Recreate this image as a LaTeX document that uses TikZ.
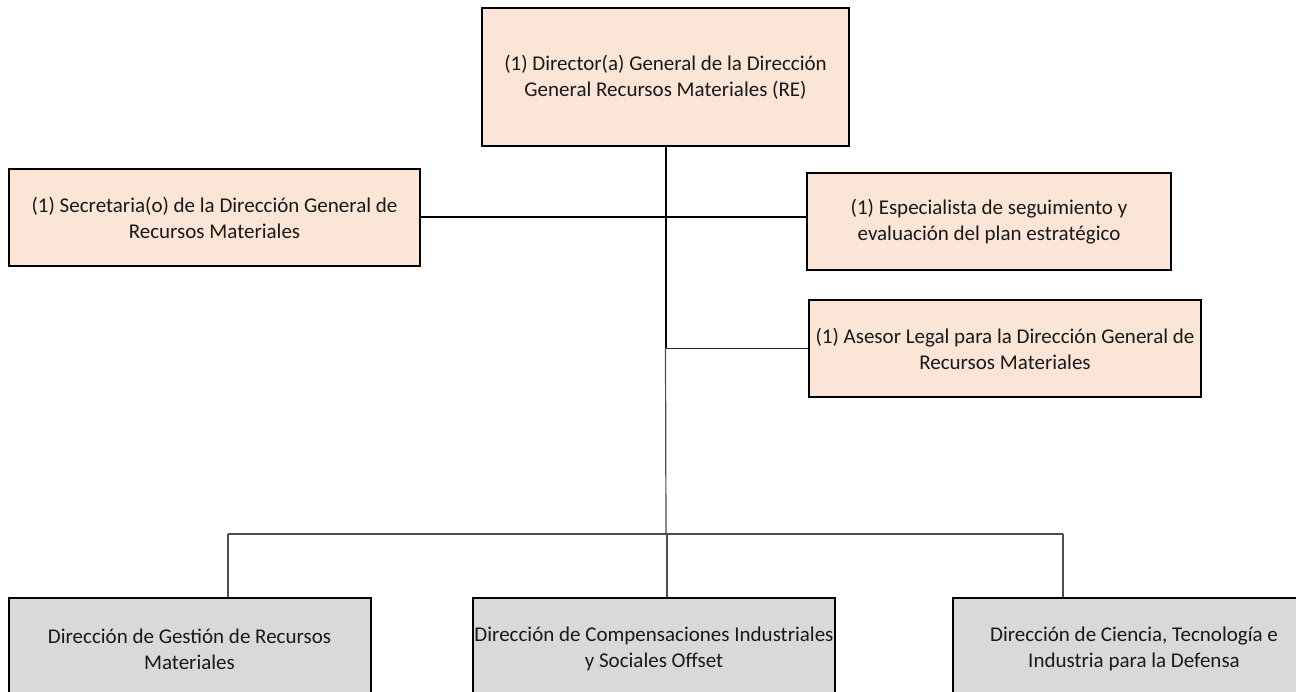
\documentclass[tikz,border=0pt]{standalone}
\usepackage{fontspec}
\setmainfont{Carlito}
\definecolor{peach}{HTML}{FBE5D6}
\definecolor{boxgray}{HTML}{D9D9D9}
\begin{document}
\begin{tikzpicture}[x=1pt,y=-1pt,
  unit/.style={draw=black, line width=2pt, align=center, inner sep=0pt,
    font=\fontsize{21}{26}\selectfont, text=black!90},
  staff/.style={unit, fill=peach, minimum height=97pt},
  dept/.style={unit, fill=boxgray, minimum height=102pt, minimum width=362pt},
  mainline/.style={line width=2pt, black},
  thinline/.style={line width=1.2pt, black!70}]
\useasboundingbox (0,0) rectangle (1296,692);
\clip (0,0) rectangle (1296,692);

% heads
\node[staff, minimum width=367pt, minimum height=138pt] (top) at (665.5,77)
  {(1) Director(a) General de la Dirección\\General Recursos Materiales (RE)};
\node[staff, minimum width=411pt] (sec) at (214.5,217.5)
  {(1) Secretaria(o) de la Dirección General de\\Recursos Materiales};
\node[staff, minimum width=364pt] (esp) at (989,221.5)
  {(1) Especialista de seguimiento y\\evaluación del plan estratégico};
\node[staff, minimum width=392pt] (ase) at (1005,348.5)
  {(1) Asesor Legal para la Dirección General de\\Recursos Materiales};

% directorates
\node[dept] (b1) at (189.5,649) {Dirección de Gestión de Recursos\\Materiales};
\node[dept] (b2) at (654,649) {Dirección de Compensaciones Industriales\\y Sociales Offset};
\node[dept] (b3) at (1134,649) {Dirección de Ciencia, Tecnología e\\Industria para la Defensa};

% junction points
\coordinate (j1) at (top.south |- sec.east);
\coordinate (j2) at (top.south |- ase.west);
\coordinate (bus) at (666,534);
\coordinate (d1) at (228,534);
\coordinate (d2) at (667,534);
\coordinate (d3) at (1063,534);

% staff connectors
\draw[mainline] (top.south) -- (j1) -- (j2);
\draw[mainline] (sec.east) -- (j1) -- (esp.west |- j1);
\draw[line width=1.5pt, black!85] (j2) -- (ase.west);

% directorate connectors
\draw[thinline] (j2) -- (bus);
\draw[thinline] (d1) -- (d3);
\draw[thinline] (d1) -- (d1 |- b1.north);
\draw[thinline] (d2) -- (d2 |- b2.north);
\draw[thinline] (d3) -- (d3 |- b3.north);
\end{tikzpicture}
\end{document}
